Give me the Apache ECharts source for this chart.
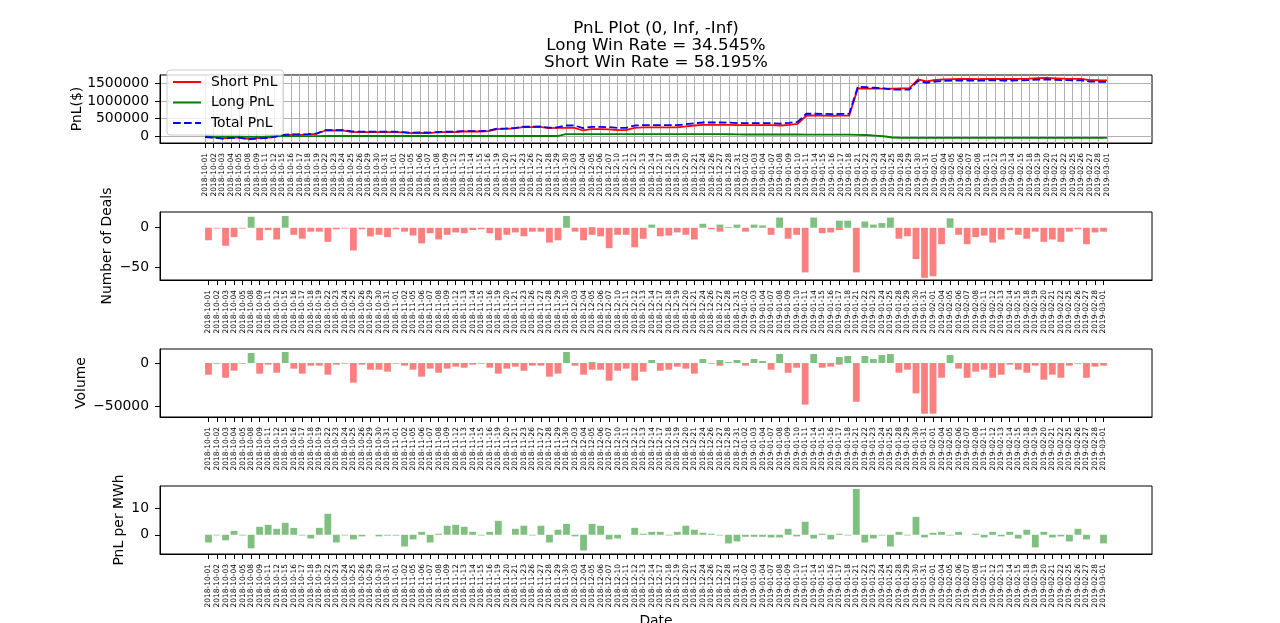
<!DOCTYPE html>
<html>
<head>
<meta charset="utf-8">
<title>PnL Plot</title>
<script src="https://cdn.jsdelivr.net/npm/echarts@6/dist/echarts.min.js"></script>
<style>
  html, body { margin: 0; padding: 0; background: #fff; }
  #main { width: 1280px; height: 623px; }
</style>
</head>
<body>
<div id="main"></div>
<script>
var dates = [
  "2018-10-01","2018-10-02","2018-10-03","2018-10-04","2018-10-05","2018-10-08","2018-10-09","2018-10-11","2018-10-12","2018-10-15",
  "2018-10-16","2018-10-17","2018-10-18","2018-10-19","2018-10-22","2018-10-23","2018-10-24","2018-10-25","2018-10-26","2018-10-29",
  "2018-10-30","2018-10-31","2018-11-01","2018-11-02","2018-11-05","2018-11-06","2018-11-07","2018-11-08","2018-11-09","2018-11-12",
  "2018-11-13","2018-11-14","2018-11-15","2018-11-16","2018-11-19","2018-11-20","2018-11-21","2018-11-23","2018-11-26","2018-11-27",
  "2018-11-28","2018-11-29","2018-11-30","2018-12-03","2018-12-04","2018-12-05","2018-12-06","2018-12-07","2018-12-10","2018-12-11",
  "2018-12-12","2018-12-13","2018-12-14","2018-12-17","2018-12-18","2018-12-19","2018-12-20","2018-12-21","2018-12-24","2018-12-26",
  "2018-12-27","2018-12-28","2018-12-31","2019-01-02","2019-01-03","2019-01-04","2019-01-07","2019-01-08","2019-01-09","2019-01-10",
  "2019-01-11","2019-01-14","2019-01-15","2019-01-16","2019-01-17","2019-01-18","2019-01-21","2019-01-22","2019-01-23","2019-01-24",
  "2019-01-25","2019-01-28","2019-01-29","2019-01-30","2019-01-31","2019-02-01","2019-02-04","2019-02-05","2019-02-06","2019-02-07",
  "2019-02-08","2019-02-11","2019-02-12","2019-02-13","2019-02-14","2019-02-15","2019-02-18","2019-02-19","2019-02-20","2019-02-21",
  "2019-02-22","2019-02-25","2019-02-26","2019-02-27","2019-02-28","2019-03-01"
];

// cumulative pnl, $
var shortPnl = [
  -19000,-28000,-56000,-37000,-28000,-66000,-47000,-37000,-19000,37000,
  47000,47000,56000,75000,168000,168000,168000,131000,122000,122000,
  122000,122000,122000,112000,94000,103000,94000,112000,120000,122000,
  140000,140000,140000,150000,206000,215000,225000,262000,262000,271000,
  234000,243000,243000,243000,168000,206000,206000,197000,178000,178000,
  243000,253000,253000,253000,253000,253000,281000,309000,328000,328000,
  328000,328000,318000,318000,318000,318000,318000,309000,328000,356000,
  590000,590000,585000,580000,585000,590000,1358000,1348000,1348000,1348000,
  1348000,1358000,1358000,1610000,1554000,1592000,1610000,1615000,1620000,1620000,
  1615000,1620000,1625000,1620000,1620000,1625000,1630000,1645000,1648000,1640000,
  1630000,1625000,1625000,1590000,1585000,1582000
];
var longPnl = [
  0,-3000,-8000,-5000,-5000,-15000,-12000,-8000,5000,8000,
  10000,10000,10000,10000,12000,12000,12000,12000,12000,12000,
  12000,12000,12000,12000,12000,12000,12000,12000,12000,12000,
  12000,12000,12000,12000,12000,12000,12000,12000,12000,12000,
  12000,12000,65000,65000,65000,65000,65000,65000,65000,65000,
  65000,65000,65000,65000,65000,65000,65000,65000,65000,65000,
  65000,62000,60000,55000,55000,55000,55000,55000,55000,55000,
  50000,50000,50000,50000,50000,50000,45000,40000,25000,5000,
  -30000,-40000,-40000,-40000,-42000,-42000,-42000,-42000,-42000,-42000,
  -42000,-42000,-42000,-42000,-42000,-42000,-42000,-42000,-42000,-42000,
  -42000,-42000,-42000,-42000,-42000,-42000
];
var totalPnl = [
  -19000,-31000,-64000,-42000,-33000,-81000,-59000,-45000,-14000,45000,
  57000,57000,66000,85000,180000,180000,180000,143000,134000,134000,
  134000,134000,134000,124000,106000,115000,106000,124000,132000,134000,
  152000,152000,152000,162000,218000,227000,237000,274000,274000,283000,
  246000,255000,308000,308000,233000,271000,271000,262000,243000,243000,
  308000,318000,318000,318000,318000,318000,346000,374000,393000,393000,
  393000,390000,378000,373000,373000,373000,373000,364000,383000,411000,
  640000,640000,635000,630000,635000,640000,1403000,1388000,1373000,1353000,
  1318000,1318000,1318000,1570000,1512000,1550000,1568000,1573000,1578000,1578000,
  1573000,1578000,1583000,1578000,1578000,1583000,1588000,1603000,1606000,1598000,
  1588000,1583000,1583000,1548000,1543000,1540000
];

// number of deals: long (+) and short (-)
var longDeals = [
  0,0,0,0,0,14,0,0,0,15, 0,0,0,0,0,0,0,0,0,0,
  0,0,0,0,0,0,0,0,0,0, 0,0,0,0,0,0,0,0,0,0,
  0,0,15,0,0,1,0,0,0,0, 0,0,4,0,0,0,0,0,5,0,
  4,1,4,0,4,3,0,13,0,0, 0,13,0,0,9,9,0,8,4,6,
  13,0,0,0,0,0,0,12,0,0, 0,0,0,0,0,0,0,0,0,0,
  0,0,0,0,0,0
];
var shortDeals = [
  -16,-1,-23,-12,-1,0,-16,-3,-15,0, -9,-14,-5,-5,-18,-2,-1,-29,-2,-11,
  -9,-12,-2,-5,-10,-20,-7,-15,-9,-6, -7,-3,-2,-7,-16,-9,-6,-11,-5,-5,
  -19,-16,0,-5,-16,-9,-11,-26,-9,-9, -25,-14,0,-11,-10,-6,-9,-15,0,-2,
  -5,0,0,-5,0,0,-9,0,-14,-9, -57,0,-7,-6,-3,0,-57,0,0,0,
  0,-14,-11,-40,-64,-62,-21,0,-9,-21, -12,-10,-19,-15,-3,-9,-14,-5,-18,-15,
  -18,-5,-2,-21,-6,-5
];

// volume, MWh
var longVolume = [
  0,0,0,0,0,11500,0,0,0,12700, 0,0,0,0,0,0,0,0,0,0,
  0,0,0,0,0,0,0,0,0,0, 0,0,0,0,0,0,0,0,0,0,
  0,0,12700,0,0,1100,0,0,0,0, 0,0,3500,0,0,0,0,0,4600,0,
  3500,1100,3500,0,4600,2300,0,10400,0,0, 0,10400,0,0,6900,8100,0,8100,4600,9200,
  10400,0,0,0,0,0,0,9200,0,0, 0,0,0,0,0,0,0,0,0,0,
  0,0,0,0,0,0
];
var shortVolume = [
  -13500,-800,-17000,-8900,-800,0,-12300,-1900,-11200,0,
  -6500,-12300,-3100,-3100,-13500,-1900,-800,-22700,-1900,-7700,
  -7700,-10000,-800,-3100,-7700,-15800,-6500,-11200,-6500,-4200,
  -5400,-1900,-800,-5400,-12300,-6500,-4200,-8900,-3100,-3100,
  -15800,-12300,0,-3100,-13500,-7700,-7700,-20400,-8900,-6500,
  -20400,-10000,0,-8900,-7700,-4200,-6500,-12300,0,-800,
  -3100,0,0,-3100,0,0,-7700,0,-11200,-5400,
  -48100,0,-5400,-4200,-1900,0,-44700,0,0,0,
  0,-11200,-7700,-35000,-58500,-58500,-17000,0,-6500,-17000,
  -10000,-7700,-17000,-13500,-1900,-7700,-11200,-3100,-19300,-13500,
  -17000,-3100,-800,-17000,-4200,-3100
];

var pnlPerMwh = [
  -2.9,-0.25,-2.1,1.5,-0.25,-5.1,3.0,3.75,2.25,4.5,
  2.6,-0.25,-1.4,2.6,7.9,-2.9,-0.25,-1.75,-0.6,0,
  -0.6,-0.3,-0.3,-4.4,-1.75,1.1,-2.9,0.4,3.4,3.75,
  3.0,1.1,-0.25,1.1,5.25,0,2.25,3.4,-0.25,3.4,
  -2.9,1.9,4.1,-0.6,-5.9,4.1,3.4,-1.75,-1.4,0,
  2.6,0.4,1.1,1.1,-0.25,1.1,3.4,1.9,0.75,0.4,
  -0.25,-3.25,-2.5,-0.75,-0.75,-0.75,-1.0,-1.0,2.25,-0.6,
  4.9,-1.4,0.4,-1.75,0.4,-0.25,17.25,-2.9,-1.4,-0.25,
  -4.4,1.1,-0.25,6.75,-1.0,0.75,1.1,-0.25,1.1,0,
  0.4,-1.0,1.1,-0.6,1.1,-1.4,1.9,-4.75,1.1,-1.0,
  -0.6,-2.5,2.25,-1.75,0,-3.25
];

var yTicksPnl = [0, 500000, 1000000, 1500000];
var yTicksDeals = [-50, 0];
var yTicksVolume = [-50000, 0];
var yTicksMwh = [0, 10];

var FONT = "DejaVu Sans";
var RED = "rgba(255,0,0,0.5)", GREEN = "rgba(0,128,0,0.5)";
var idx = dates.map(function(d, i) { return i; });

function pairs(values) {
  return values.map(function(v, i) { return [i, v]; });
}

function fmtNum(v) {
  return v < 0 ? "\u2212" + (-v) : String(v);
}

function makeGrid(top) {
  return { left: 160, width: 992, top: top, height: 68, outerBoundsMode: "none",
           show: true, borderColor: "#000", borderWidth: 1 };
}

function makeX(gi, min, max, grid, name) {
  var ax = {
    type: "value", gridIndex: gi, min: min, max: max,
    axisLine: { show: true, onZero: false, lineStyle: { color: "#000", width: 1 } },
    axisTick: { show: true, customValues: idx, length: 5, lineStyle: { color: "#000", width: 1 } },
    axisLabel: {
      customValues: idx, rotate: 90, fontSize: 7.5, color: "#000", fontFamily: FONT, margin: 10,
      formatter: function(v) { return dates[v] || ""; }
    },
    splitLine: { show: grid, lineStyle: { color: "#b0b0b0", width: 1 } }
  };
  if (name) {
    ax.name = name;
    ax.nameLocation = "middle";
    ax.nameGap = 60;
    ax.nameMoveOverlap = false;
    ax.nameTextStyle = { fontSize: 13.9, color: "#000", fontFamily: FONT };
  }
  return ax;
}

function makeY(gi, min, max, ticks, name, gap, grid) {
  return {
    type: "value", gridIndex: gi, min: min, max: max,
    name: name, nameLocation: "middle", nameGap: gap, nameRotate: 90, nameMoveOverlap: false,
    nameTextStyle: { fontSize: 13.9, color: "#000", fontFamily: FONT },
    axisLine: { show: true, onZero: false, lineStyle: { color: "#000", width: 1 } },
    axisTick: { show: true, customValues: ticks, length: 5, lineStyle: { color: "#000", width: 1 } },
    axisLabel: { customValues: ticks, fontSize: 13.9, color: "#000", fontFamily: FONT, margin: 11, formatter: fmtNum },
    splitLine: { show: grid, lineStyle: { color: "#b0b0b0", width: 1 } }
  };
}

function bar(name, gi, values, color) {
  return {
    name: name, type: "bar", xAxisIndex: gi, yAxisIndex: gi,
    data: pairs(values), barWidth: 6.8, barGap: "-100%",
    itemStyle: { color: color }
  };
}

var chart = echarts.init(document.getElementById("main"));
var option = {
  animation: false,
  backgroundColor: "#fff",
  textStyle: { fontFamily: FONT },
  graphic: [{
    type: "text", x: 656, y: 20,
    style: {
      text: "PnL Plot (0, Inf, -Inf)\nLong Win Rate = 34.545%\nShort Win Rate = 58.195%",
      fill: "#000", fontSize: 16.7, fontFamily: FONT, lineHeight: 17,
      align: "center", verticalAlign: "top"
    }
  }],
  legend: {
    data: ["Short PnL", "Long PnL", "Total PnL"],
    orient: "vertical", left: 167, top: 70,
    itemWidth: 28, itemHeight: 14, itemGap: 6.5,
    padding: [5, 6, 5, 5],
    backgroundColor: "rgba(255,255,255,0.8)", borderColor: "#cccccc", borderWidth: 1, borderRadius: 3,
    itemStyle: { opacity: 0 },
    textStyle: { fontSize: 13.9, color: "#000", fontFamily: FONT, padding: [0, 0, 0, 5] }
  },
  grid: [makeGrid(75), makeGrid(212), makeGrid(349), makeGrid(486)],
  xAxis: [
    makeX(0, -5.25, 110.25, true),
    makeX(1, -5.69, 110.69, false),
    makeX(2, -5.69, 110.69, false),
    makeX(3, -5.69, 110.69, false, "Date")
  ],
  yAxis: [
    makeY(0, -185000, 1733000, yTicksPnl, "PnL($)", 76, true),
    makeY(1, -66.7, 20.1, yTicksDeals, "Number of Deals", 46, false),
    makeY(2, -62350, 16170, yTicksVolume, "Volume", 72, false),
    makeY(3, -7.23, 18.35, yTicksMwh, "PnL per MWh", 34, false)
  ],
  series: [
    { name: "Short PnL", type: "line", xAxisIndex: 0, yAxisIndex: 0, data: pairs(shortPnl),
      symbol: "none", lineStyle: { color: "#ff0000", width: 1.8 }, itemStyle: { color: "#ff0000" } },
    { name: "Long PnL", type: "line", xAxisIndex: 0, yAxisIndex: 0, data: pairs(longPnl),
      symbol: "none", lineStyle: { color: "#008000", width: 1.8 }, itemStyle: { color: "#008000" } },
    { name: "Total PnL", type: "line", xAxisIndex: 0, yAxisIndex: 0, data: pairs(totalPnl),
      symbol: "none", lineStyle: { color: "#0000ff", width: 1.8, type: [7.7, 3.3] }, itemStyle: { color: "#0000ff" } },
    bar("Long Deals", 1, longDeals, GREEN),
    bar("Short Deals", 1, shortDeals, RED),
    bar("Long Volume", 2, longVolume, GREEN),
    bar("Short Volume", 2, shortVolume, RED),
    bar("PnL per MWh", 3, pnlPerMwh, GREEN)
  ]
};
chart.setOption(option);
</script>
</body>
</html>
